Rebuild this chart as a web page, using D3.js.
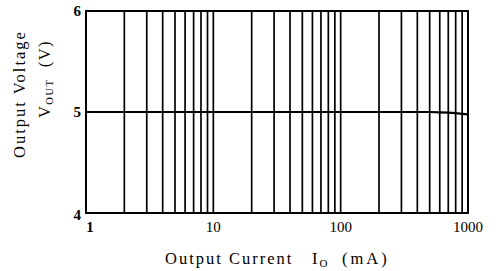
<!DOCTYPE html>
<html>
<head>
<meta charset="utf-8">
<script src="https://cdn.jsdelivr.net/npm/d3@7"></script>
<style>
  body { margin: 0; background: #fff; }
  svg { display: block; }
  text { font-family: "Liberation Serif", "Times New Roman", serif; fill: #000; }
</style>
</head>
<body>
<svg id="chart" width="496" height="271"></svg>
<script>
// output current (mA) vs output voltage (V)
var current = [1, 2, 5, 10, 20, 50, 100, 200, 300, 400, 500, 600, 700, 800, 900, 1000]
var voltage = [5.0, 5.0, 5.0, 5.0, 5.0, 5.0, 5.0, 5.0, 5.0, 5.0, 5.0, 4.997, 4.993, 4.988, 4.982, 4.976]
var xTicks = [1, 10, 100, 1000]
var yTicks = [4, 5, 6]

var svg = d3.select("#chart")

var x = d3.scaleLog().domain([1, 1000]).range([86, 468]),
    y = d3.scaleLinear().domain([4, 6]).range([213, 11])

//------------------------------------------------------------------------------
// vertical grid, 1..9 per decade
//------------------------------------------------------------------------------
var grid = []
for (var k = 0; k < 3; k++) {
  for (var m = 2; m <= 9; m++) grid.push(m * Math.pow(10, k))
}
grid.push(10, 100)

svg.append("g").selectAll("line")
  .data(grid)
  .enter().append("line")
    .attr("x1", function(d){ return x(d) })
    .attr("x2", function(d){ return x(d) })
    .attr("y1", y(6))
    .attr("y2", y(4))
    .attr("stroke", "#000")
    .attr("stroke-width", 1.7)

// frame
svg.append("rect")
  .attr("x", x(1))
  .attr("y", y(6))
  .attr("width", x(1000) - x(1))
  .attr("height", y(4) - y(6))
  .attr("fill", "none")
  .attr("stroke", "#000")
  .attr("stroke-width", 2)

//------------------------------------------------------------------------------
// curve
//------------------------------------------------------------------------------
var line = d3.line()
  .x(function(d, i){ return x(current[i]) })
  .y(function(d){ return y(d) })

svg.append("path")
  .datum(voltage)
  .attr("d", line)
  .attr("fill", "none")
  .attr("stroke", "#000")
  .attr("stroke-width", 2.2)

//------------------------------------------------------------------------------
// tick labels
//------------------------------------------------------------------------------
svg.append("g").selectAll("text")
  .data(yTicks)
  .enter().append("text")
    .attr("x", 81)
    .attr("y", function(d){ return y(d) + 5 + (d == 4 ? 2 : 0) })
    .attr("text-anchor", "end")
    .attr("font-size", 15)
    .attr("font-weight", "bold")
    .text(function(d){ return d })

svg.append("g").selectAll("text")
  .data(xTicks)
  .enter().append("text")
    .attr("x", function(d){ return x(d) + (d == 1 ? 4 : 0) })
    .attr("y", 232)
    .attr("text-anchor", "middle")
    .attr("font-size", 15)
    .attr("font-weight", function(d){ return d == 1 ? "bold" : "normal" })
    .text(function(d){ return d })

//------------------------------------------------------------------------------
// axis titles
//------------------------------------------------------------------------------
svg.append("text")
  .attr("transform", "translate(25,94) rotate(-90)")
  .attr("text-anchor", "middle")
  .attr("font-size", 16.5)
  .attr("letter-spacing", 2)
  .text("Output Voltage")

var vt = svg.append("text")
  .attr("transform", "translate(50,79) rotate(-90)")
  .attr("text-anchor", "middle")
  .attr("font-size", 16.5)
  .attr("letter-spacing", 1.5)
vt.append("tspan").text("V")
vt.append("tspan").attr("font-size", 10.5).attr("dy", 3).text("OUT")
vt.append("tspan").attr("dy", -3).text("  (V)").attr("xml:space", "preserve")

var xt = svg.append("text")
  .attr("x", 165)
  .attr("y", 264)
  .attr("font-size", 16.5)
  .attr("letter-spacing", 2)
xt.append("tspan").text("Output Current")
xt.append("tspan").attr("x", 312).text("I")
xt.append("tspan").attr("font-size", 11).attr("dy", 3).attr("letter-spacing", 0).text("O")
xt.append("tspan").attr("x", 342).attr("dy", -3).attr("letter-spacing", 3).text("(mA)")
</script>
</body>
</html>
